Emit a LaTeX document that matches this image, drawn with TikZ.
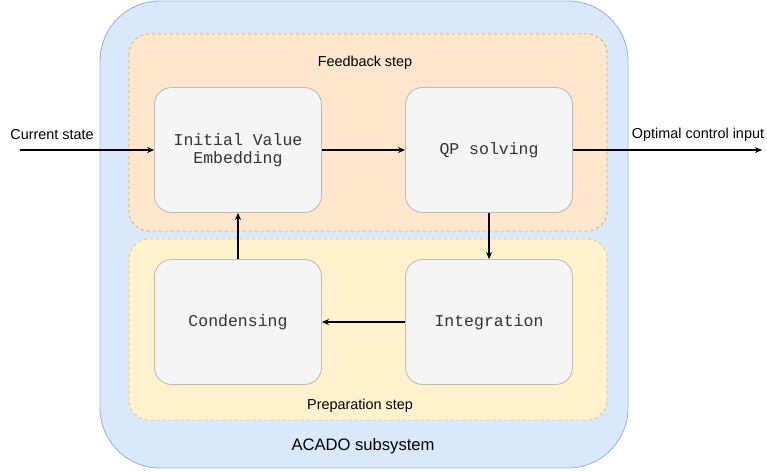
\documentclass[tikz,border=0pt]{standalone}
\usepackage{fontspec}
\setmainfont{Liberation Sans}
\newfontfamily\monofont{Liberation Mono}
\usetikzlibrary{arrows.meta}

\definecolor{outerfill}{HTML}{DAE8FC}
\definecolor{outerline}{HTML}{9DB5DC}
\definecolor{fbfill}{HTML}{FFE6CC}
\definecolor{fbline}{HTML}{E9AE3C}
\definecolor{prepfill}{HTML}{FFF2CC}
\definecolor{prepline}{HTML}{EACB6A}
\definecolor{boxfill}{HTML}{F5F5F5}
\definecolor{boxline}{HTML}{BBBBBB}
\definecolor{boxtext}{HTML}{333333}

\begin{document}
\begin{tikzpicture}[x=1pt,y=-1pt,
  stagebox/.style={draw=boxline, fill=boxfill, line width=0.9pt,
    rounded corners=17pt, minimum width=167pt, minimum height=125pt,
    inner sep=0pt, align=center, text=boxtext,
    font=\monofont\fontsize{16.5}{17.5}\selectfont},
  flow/.style={line width=1.3pt, -{Stealth[length=7pt,width=6pt]}},
  label/.style={font=\fontsize{14.4}{16}\selectfont, inner sep=0pt},
  region/.style={line width=0.9pt, dashed, dash pattern=on 3pt off 3pt, rounded corners=20pt}
]
\useasboundingbox (0,0) rectangle (767,472);

% ACADO container and its two phases
\draw[fill=outerfill, draw=outerline, line width=0.9pt, rounded corners=60pt]
  (100,1) rectangle (628,468);
\draw[region, fill=fbfill, draw=fbline] (129,34) rectangle (607,231);
\draw[region, fill=prepfill, draw=prepline] (129,239) rectangle (607,420);

\node[label] (fbtitle) at (365,63) {Feedback step};
\node[label] (preptitle) at (360,406) {Preparation step};
\node[font=\fontsize{16.6}{18}\selectfont, inner sep=0pt] (acado) at (363,446) {ACADO subsystem};

% processing stages
\node[stagebox] (ive) at (238,150) {Initial Value\\Embedding};
\node[stagebox] (qp) at (489,150) {QP solving};
\node[stagebox] (cond) at (238,322) {Condensing};
\node[stagebox] (integ) at (489,322) {Integration};

% external signals
\coordinate (inp) at (20,150);
\coordinate (outp) at (762,150);
\node[label] (curstate) at (52,135) {Current state};
\node[label] (optin) at (698,135) {Optimal control input};

\draw[flow] (inp) -- (ive.west |- inp);
\draw[flow] (ive) -- (qp);
\draw[flow] (qp.east |- outp) -- (outp);
\draw[flow] (qp) -- (integ);
\draw[flow] (integ) -- (cond);
\draw[flow] (cond) -- (ive);
\end{tikzpicture}
\end{document}
